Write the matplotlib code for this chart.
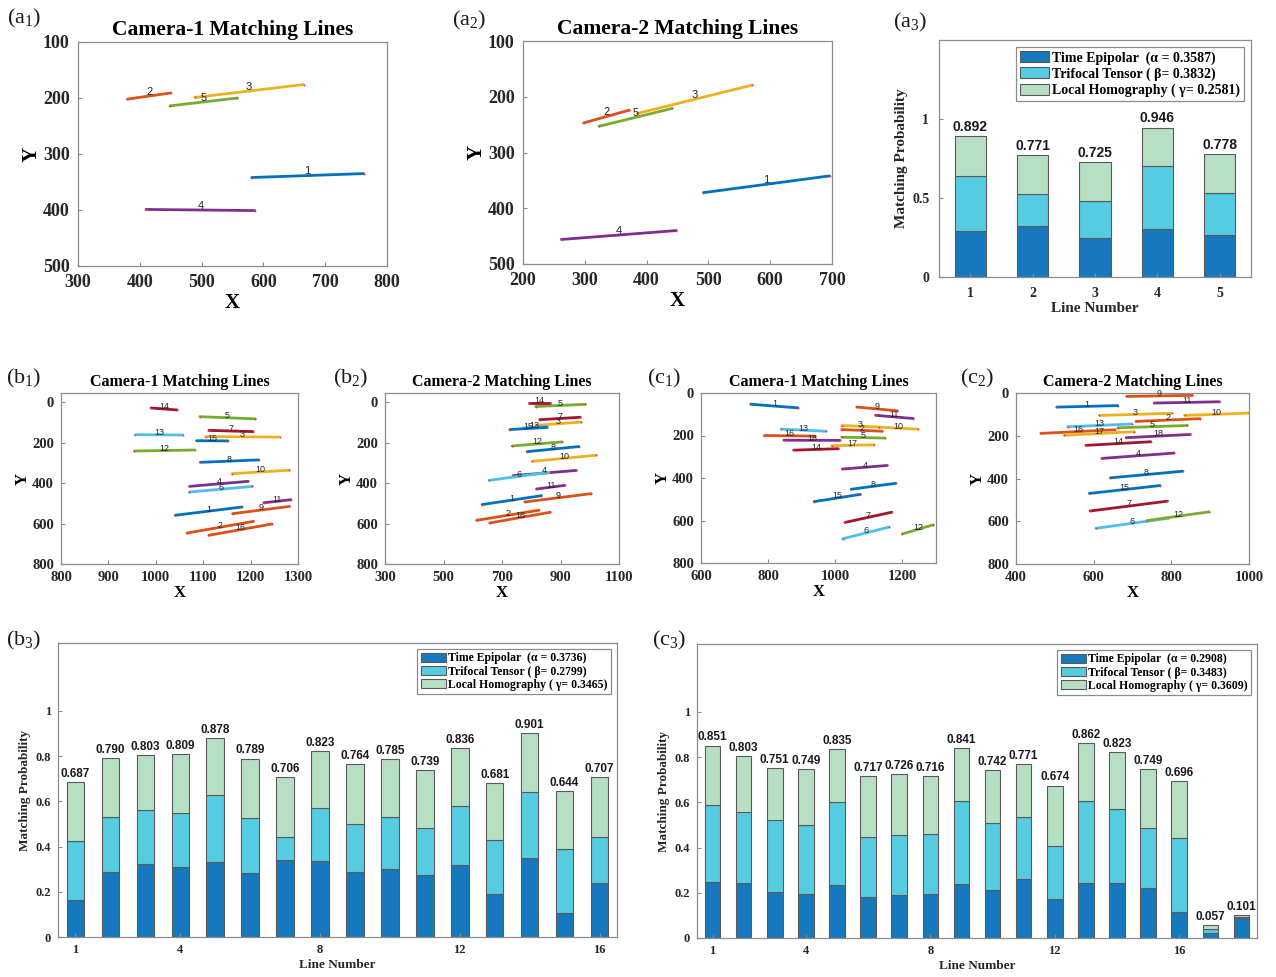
import numpy as np
import matplotlib.pyplot as plt
from matplotlib.patches import Patch

plt.rcParams['font.family'] = ['Liberation Serif', 'DejaVu Serif']
plt.rcParams['mathtext.fontset'] = 'custom'
plt.rcParams['mathtext.rm'] = 'Liberation Serif'
plt.rcParams['mathtext.it'] = 'Liberation Serif'

W, H = 1276, 977

# matching line segments, one row per line number: x1, y1, x2, y2
a1_lines = [(581, 342, 762, 335), (380, 202, 450, 191), (489, 199, 665, 176),
            (410, 399, 586, 401), (449, 214, 558, 200)]
a2_lines = [(492, 372, 696, 342), (298, 247, 372, 224), (385, 230, 571, 179),
            (262, 456, 448, 440), (323, 253, 441, 221)]
b1_lines = [(1041, 559, 1182, 518), (1066, 647, 1206, 589), (1105, 170, 1261, 172),
            (1071, 416, 1195, 391), (1093, 71, 1210, 82), (1071, 444, 1204, 416),
            (1112, 139, 1205, 145), (1094, 297, 1217, 285), (1162, 551, 1282, 515),
            (1161, 353, 1282, 336), (1228, 497, 1285, 482), (955, 241, 1082, 236),
            (957, 160, 1057, 162), (990, 28, 1045, 38), (1086, 190, 1152, 191),
            (1112, 658, 1245, 602)]
b2_lines = [(632, 506, 835, 462), (613, 584, 826, 534), (815, 114, 970, 98),
            (738, 363, 954, 337), (815, 21, 985, 10), (656, 386, 863, 346),
            (829, 86, 968, 74), (786, 244, 963, 219), (778, 493, 1005, 452),
            (804, 292, 1022, 262), (818, 429, 914, 411), (735, 216, 905, 196),
            (772, 127, 852, 119), (793, 3, 863, 3), (727, 135, 855, 124),
            (658, 597, 865, 544)]
c1_lines = [(748, 53, 889, 70), (1019, 172, 1140, 180), (1019, 153, 1130, 160),
            (1021, 358, 1155, 341), (1019, 208, 1148, 212), (1022, 686, 1160, 631),
            (1029, 609, 1168, 561), (1047, 453, 1180, 425), (1064, 66, 1185, 84),
            (1130, 161, 1245, 170), (1120, 105, 1232, 120), (1200, 663, 1292, 620),
            (839, 170, 972, 180), (876, 269, 1009, 262), (937, 511, 1075, 477),
            (789, 200, 939, 203), (989, 248, 1115, 244), (847, 222, 1014, 223)]
c2_lines = [(505, 66, 662, 59), (709, 133, 874, 120), (615, 105, 801, 95),
            (621, 306, 807, 281), (662, 163, 841, 152), (606, 633, 792, 586),
            (591, 552, 790, 506), (643, 397, 829, 366), (685, 16, 854, 11),
            (834, 105, 1000, 94), (756, 47, 924, 41), (737, 597, 897, 556),
            (533, 158, 698, 145), (580, 245, 747, 228), (589, 470, 771, 433),
            (464, 189, 655, 172), (524, 198, 705, 181), (684, 209, 849, 194)]

# stacked matching probabilities
a3_te = [0.290, 0.324, 0.244, 0.305, 0.263]
a3_tt = [0.350, 0.202, 0.234, 0.398, 0.270]
a3_lh = [0.252, 0.245, 0.247, 0.243, 0.245]
a3_total = [0.892, 0.771, 0.725, 0.946, 0.778]

b3_te = [0.163, 0.289, 0.323, 0.310, 0.332, 0.284, 0.341, 0.336,
         0.289, 0.299, 0.273, 0.320, 0.190, 0.348, 0.104, 0.237]
b3_tt = [0.262, 0.240, 0.237, 0.238, 0.295, 0.242, 0.103, 0.234,
         0.212, 0.233, 0.207, 0.258, 0.237, 0.295, 0.284, 0.204]
b3_lh = [0.262, 0.261, 0.243, 0.261, 0.251, 0.263, 0.262, 0.253,
         0.263, 0.253, 0.259, 0.258, 0.254, 0.258, 0.256, 0.266]
b3_total = [0.687, 0.790, 0.803, 0.809, 0.878, 0.789, 0.706, 0.823,
            0.764, 0.785, 0.739, 0.836, 0.681, 0.901, 0.644, 0.707]

c3_te = [0.248, 0.244, 0.204, 0.196, 0.233, 0.182, 0.189, 0.196, 0.239,
         0.213, 0.261, 0.173, 0.241, 0.244, 0.223, 0.114, 0.024, 0.087]
c3_tt = [0.341, 0.313, 0.319, 0.305, 0.368, 0.266, 0.267, 0.265, 0.367,
         0.297, 0.272, 0.236, 0.366, 0.325, 0.264, 0.329, 0.016, 0.005]
c3_lh = [0.262, 0.246, 0.228, 0.248, 0.234, 0.269, 0.270, 0.255, 0.235,
         0.232, 0.238, 0.265, 0.255, 0.254, 0.262, 0.253, 0.017, 0.009]
c3_total = [0.851, 0.803, 0.751, 0.749, 0.835, 0.717, 0.726, 0.716, 0.841,
            0.742, 0.771, 0.674, 0.862, 0.823, 0.749, 0.696, 0.057, 0.101]

a3_weights = ['Time Epipolar  (\u03b1 = 0.3587)', 'Trifocal Tensor ( \u03b2= 0.3832)',
              'Local Homography ( \u03b3= 0.2581)']
b3_weights = ['Time Epipolar  (\u03b1 = 0.3736)', 'Trifocal Tensor ( \u03b2= 0.2799)',
              'Local Homography ( \u03b3= 0.3465)']
c3_weights = ['Time Epipolar  (\u03b1 = 0.2908)', 'Trifocal Tensor ( \u03b2= 0.3483)',
              'Local Homography ( \u03b3= 0.3609)']

line_colors = ['#0072bd', '#d95319', '#edb120', '#7e2f8e', '#77ac30', '#4dbeee', '#a2142f']
bar_colors = ['#1679bd', '#55cce2', '#b7dfc4']
GRAY = '#8c8c8c'
TXT = '#262626'


def ax_px(fig, l, t, r, b):
    return fig.add_axes([l / W, 1 - b / H, (r - l) / W, (b - t) / H])


def style(ax, fs, pad):
    for s in ax.spines.values():
        s.set_color(GRAY)
        s.set_linewidth(0.9)
    ax.tick_params(direction='in', length=3, color=GRAY, labelcolor=TXT,
                   labelsize=fs, pad=pad)
    for lab in ax.get_xticklabels() + ax.get_yticklabels():
        lab.set_fontweight('bold')


def line_panel(ax, segs, xlim, xticks, ylim, yticks, title, tfs, fs, lfs, nfs, noff, pad):
    for i, (x1, y1, x2, y2) in enumerate(segs):
        c = line_colors[i % 7]
        ax.plot([x1, x2], [y1, y2], color=c, lw=2, solid_capstyle='round')
        ax.plot([x1, x2], [y1, y2], 'o', color='#ff3030', ms=1.3, mew=0)
        ax.annotate(str(i + 1), ((x1 + x2) / 2, (y1 + y2) / 2), xytext=(0, noff),
                    textcoords='offset points', ha='center', va='center',
                    fontsize=nfs, family='Liberation Sans', color=TXT)
    ax.set_xlim(xlim)
    ax.set_ylim(ylim)
    ax.set_xticks(xticks)
    ax.set_yticks(yticks)
    ax.set_title(title, fontsize=tfs, fontweight='bold', pad=5)
    ax.set_xlabel('X', fontsize=lfs, fontweight='bold', labelpad=1)
    ax.set_ylabel('Y', fontsize=lfs, fontweight='bold', labelpad=1)
    style(ax, fs, pad)


def bar_panel(ax, te, tt, lh, total, labels, xlim, xticks, ylim, yticks,
              fs, lfs, vfs, legfs, lspace, pad):
    x = np.arange(1, len(te) + 1)
    te = np.array(te)
    tt = np.array(tt)
    lh = np.array(lh)
    kw = dict(width=0.5, edgecolor='#5a5a5a', linewidth=0.8)
    ax.bar(x, te, color=bar_colors[0], **kw)
    ax.bar(x, tt, bottom=te, color=bar_colors[1], **kw)
    ax.bar(x, lh, bottom=te + tt, color=bar_colors[2], **kw)
    for xi, tv, top in zip(x, total, te + tt + lh):
        ax.annotate('%.3f' % tv, (xi, top), xytext=(0, 1.5), textcoords='offset points',
                    ha='center', va='bottom', fontsize=vfs, fontweight='bold',
                    family='Liberation Sans', color='#1a1a1a')
    ax.set_xlim(xlim)
    ax.set_ylim(ylim)
    ax.set_xticks(xticks)
    ax.set_yticks(yticks)
    ax.set_yticklabels(['%g' % v for v in yticks])
    ax.set_xlabel('Line Number', fontsize=lfs, fontweight='bold', labelpad=2, color=TXT)
    ax.set_ylabel('Matching Probability', fontsize=lfs, fontweight='bold', labelpad=3,
                  color=TXT)
    handles = [Patch(facecolor=c, edgecolor='#5a5a5a', linewidth=0.8) for c in bar_colors]
    leg = ax.legend(handles, labels, loc='upper right', fancybox=False, framealpha=1,
                    edgecolor=GRAY, prop={'weight': 'bold', 'size': legfs},
                    handlelength=2.1, handleheight=0.85, handletextpad=0.2,
                    borderpad=0.3, labelspacing=lspace, borderaxespad=0.5)
    leg.get_frame().set_linewidth(0.9)
    style(ax, fs, pad)


fig = plt.figure(figsize=(W / 100, H / 100), dpi=100)

ax = ax_px(fig, 78, 42, 387, 266)
line_panel(ax, a1_lines, (300, 800), range(300, 801, 100), (500, 100),
           range(100, 501, 100), 'Camera-1 Matching Lines', 15.5, 13, 15, 8, 3, 6)
ax = ax_px(fig, 523, 41, 832, 264)
line_panel(ax, a2_lines, (200, 700), range(200, 701, 100), (500, 100),
           range(100, 501, 100), 'Camera-2 Matching Lines', 15.5, 13, 15, 8, 3, 6)
ax = ax_px(fig, 939, 40, 1251, 277)
bar_panel(ax, a3_te, a3_tt, a3_lh, a3_total, a3_weights, (0.5, 5.5), range(1, 6),
          (0, 1.5), [0, 0.5, 1], 10, 11, 10, 10, 0.2, 7)

ax = ax_px(fig, 61, 393, 298, 564)
line_panel(ax, b1_lines, (800, 1300), range(800, 1301, 100), (800, -46),
           range(0, 801, 200), 'Camera-1 Matching Lines', 11.5, 10.5, 12, 6.5, 1.5, 5)
ax = ax_px(fig, 385, 393, 619, 564)
line_panel(ax, b2_lines, (300, 1100), range(300, 1101, 200), (800, -46),
           range(0, 801, 200), 'Camera-2 Matching Lines', 11.5, 10.5, 12, 6.5, 1.5, 5)
ax = ax_px(fig, 701, 393, 936, 563)
line_panel(ax, c1_lines, (600, 1300), range(600, 1201, 200), (800, 0),
           range(0, 801, 200), 'Camera-1 Matching Lines', 11.5, 10.5, 12, 6.5, 1.5, 5)
ax = ax_px(fig, 1016, 393, 1249, 564)
line_panel(ax, c2_lines, (400, 1000), range(400, 1001, 200), (800, 0),
           range(0, 801, 200), 'Camera-2 Matching Lines', 11.5, 10.5, 12, 6.5, 1.5, 5)

ax = ax_px(fig, 58, 643, 617, 937)
bar_panel(ax, b3_te, b3_tt, b3_lh, b3_total, b3_weights, (0.5, 16.5), [1, 4, 8, 12, 16],
          (0, 1.3), [0, 0.2, 0.4, 0.6, 0.8, 1], 9, 9.5, 8.5, 8.5, 0.1, 5)
ax = ax_px(fig, 697, 644, 1257, 938)
bar_panel(ax, c3_te, c3_tt, c3_lh, c3_total, c3_weights, (0.5, 18.5), [1, 4, 8, 12, 16],
          (0, 1.3), [0, 0.2, 0.4, 0.6, 0.8, 1], 9, 9.5, 8.5, 8.5, 0.1, 5)

panel_tags = [('(a$_1$)', 7, 18), ('(a$_2$)', 452, 20), ('(a$_3$)', 893, 22),
              ('(b$_1$)', 6, 378), ('(b$_2$)', 333, 378), ('(c$_1$)', 647, 378),
              ('(c$_2$)', 960, 378), ('(b$_3$)', 6, 640), ('(c$_3$)', 652, 640)]
for tag, px, py in panel_tags:
    fig.text(px / W, 1 - py / H, tag, fontsize=16, ha='left', va='center', color='#1a1a1a')

fig.savefig('out.png', dpi=100, facecolor='white')
